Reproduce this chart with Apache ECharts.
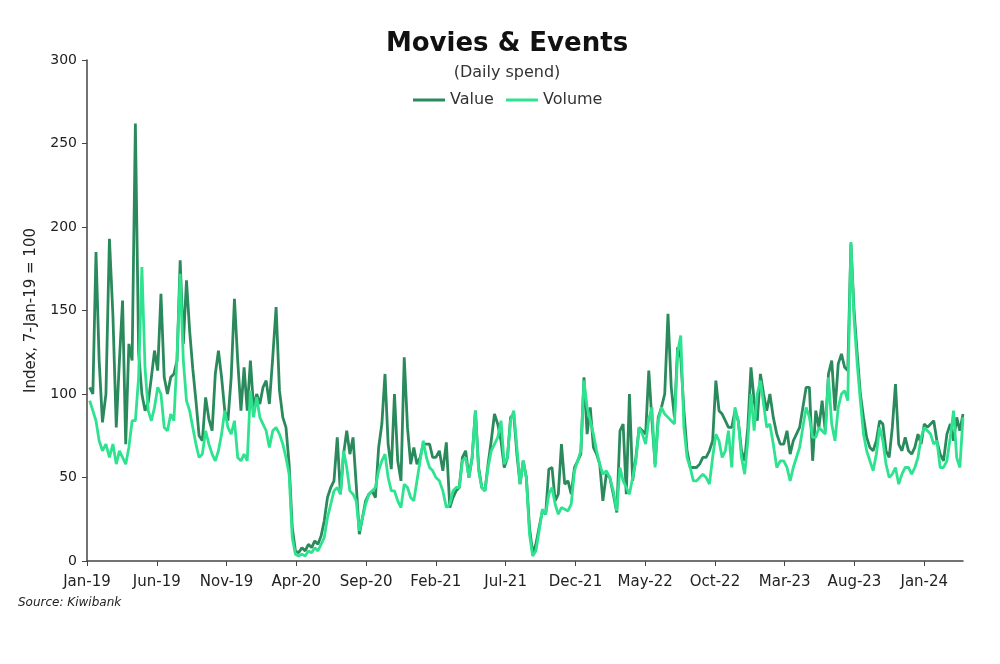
<!DOCTYPE html>
<html>
<head>
<meta charset="utf-8">
<script src="https://cdn.jsdelivr.net/npm/echarts@6/dist/echarts.min.js"></script>
<style>
  html, body { margin: 0; padding: 0; background: #fff; }
  #chart { width: 1000px; height: 664px; }
</style>
</head>
<body>
<div id="chart"></div>
<script>
  // weekly points, first week = 7-Jan-19
  const startDate = '2019-01-07'
  const xTickLabels = ['Jan-19', 'Jun-19', 'Nov-19', 'Apr-20', 'Sep-20', 'Feb-21', 'Jul-21',
    'Dec-21', 'May-22', 'Oct-22', 'Mar-23', 'Aug-23', 'Jan-24']
  const yTicks = [0, 50, 100, 150, 200, 250, 300]

  const valueData = [
    104, 100, 185, 120, 83, 100, 193, 147, 80, 120,
    156, 70, 130, 120, 262, 125, 100, 90, 95, 110,
    126, 114, 160, 110, 100, 110, 112, 120, 180, 130,
    168, 138, 115, 96, 75, 72, 98, 85, 78, 112,
    126, 110, 90, 84, 110, 157, 120, 90, 116, 90,
    120, 92, 100, 94, 104, 108, 94, 122, 152, 102,
    86, 80, 58, 20, 6, 5, 8, 6, 10, 8,
    12, 10, 15, 24, 38, 44, 48, 74, 40, 64,
    78, 64, 74, 46, 16, 26, 36, 40, 42, 38,
    68, 82, 112, 70, 55, 100, 60, 48, 122, 80,
    58, 68, 58, 62, 70, 70, 70, 62, 62, 66,
    54, 71, 32, 38, 42, 44, 62, 66, 50, 62,
    90, 56, 44, 42, 58, 72, 88, 82, 72, 56,
    62, 86, 88, 64, 46, 60, 50, 20, 5, 10,
    20, 30, 28, 55, 56, 36, 40, 70, 46, 48,
    40, 56, 60, 64, 110, 76, 92, 68, 64, 58,
    36, 52, 50, 40, 29, 78, 82, 40, 100, 48,
    62, 80, 78, 76, 114, 84, 58, 86, 92, 100,
    148, 104, 86, 128, 122, 90, 66, 56, 56, 56,
    58, 62, 62, 66, 72, 108, 90, 88, 84, 80,
    80, 90, 84, 66, 60, 80, 116, 96, 84, 112,
    100, 90, 100, 86, 76, 70, 70, 78, 64, 72,
    76, 80, 92, 104, 104, 60, 90, 80, 96, 78,
    112, 120, 90, 118, 124, 116, 114, 190, 150, 124,
    100, 86, 74, 68, 66, 72, 84, 82, 66, 62,
    80, 106, 70, 66, 74, 66, 64, 68, 76, 70,
    82, 80, 82, 84, 72, 64, 60, 76, 82, 72,
    86, 78, 88
  ]

  const volumeData = [
    96, 90, 84, 72, 66, 70, 62, 70, 58, 66,
    62, 58, 68, 84, 84, 110, 176, 115, 90, 84,
    92, 104, 100, 80, 78, 88, 84, 122, 172, 120,
    96, 90, 80, 70, 62, 64, 78, 70, 64, 60,
    66, 76, 90, 80, 76, 84, 62, 60, 64, 60,
    102, 86, 98, 86, 82, 78, 68, 78, 80, 76,
    70, 62, 52, 14, 4, 3, 4, 3, 6, 5,
    8, 6, 10, 14, 26, 34, 42, 44, 40, 66,
    56, 42, 40, 36, 18, 26, 34, 40, 42, 44,
    54, 60, 64, 50, 42, 42, 36, 32, 46, 44,
    38, 36, 48, 60, 72, 62, 56, 54, 50, 48,
    42, 32, 34, 42, 44, 44, 60, 62, 50, 62,
    90, 54, 44, 42, 56, 66, 70, 74, 84, 58,
    62, 84, 90, 68, 46, 60, 50, 16, 3, 6,
    18, 31, 28, 40, 44, 34, 28, 32, 31, 30,
    34, 54, 60, 66, 108, 92, 84, 76, 66, 58,
    52, 54, 50, 42, 30, 56, 48, 44, 40, 50,
    60, 80, 76, 70, 85, 92, 56, 84, 92, 88,
    86, 84, 82, 125, 135, 80, 62, 56, 48, 48,
    50, 52, 50, 46, 62, 76, 72, 62, 66, 78,
    56, 92, 84, 62, 52, 72, 100, 78, 100, 108,
    94, 80, 82, 70, 56, 60, 60, 56, 48, 56,
    62, 68, 80, 92, 86, 74, 74, 80, 78, 76,
    110, 82, 72, 92, 100, 102, 96, 191, 145, 118,
    96, 76, 66, 60, 54, 64, 80, 72, 58, 50,
    52, 56, 46, 52, 56, 56, 52, 56, 62, 74,
    80, 78, 76, 70, 72, 56, 56, 60, 74, 90,
    62, 56, 86
  ]

  // months since 1-Jan-19 for a given date
  function monthPos (d) {
    const y = d.getUTCFullYear()
    const m = d.getUTCMonth()
    const days = new Date(Date.UTC(y, m + 1, 0)).getUTCDate()
    return (y - 2019) * 12 + m + (d.getUTCDate() - 1) / days
  }

  const start = new Date(startDate + 'T00:00:00Z')
  const xPos = valueData.map((v, i) => monthPos(new Date(start.getTime() + i * 7 * 86400000)))
  const xMax = xPos[xPos.length - 1]

  const font = 'DejaVu Sans'
  const axisColor = '#444'
  // header block is centred a little right of the page middle
  const headerX = 502

  const chart = echarts.init(document.getElementById('chart'))
  chart.setOption({
    animation: false,
    backgroundColor: '#fff',
    textStyle: { fontFamily: font },
    title: [
      {
        text: 'Movies & Events',
        left: headerX,
        textAlign: 'center',
        top: 26,
        textStyle: { fontFamily: font, fontSize: 26, fontWeight: 'bold', color: '#111' }
      },
      {
        text: '(Daily spend)',
        left: headerX,
        textAlign: 'center',
        top: 60,
        textStyle: { fontFamily: font, fontSize: 16, fontWeight: 'normal', color: '#333' }
      }
    ],
    legend: {
      top: 87,
      left: 408,
      icon: 'rect',
      itemWidth: 32,
      itemHeight: 3,
      itemGap: 12,
      textStyle: { fontFamily: font, fontSize: 16, color: '#333' },
      data: ['Value', 'Volume']
    },
    grid: {
      left: 87,
      right: 37,
      top: 60,
      bottom: 103
    },
    xAxis: {
      type: 'value',
      min: 0,
      max: xMax,
      interval: 5,
      splitLine: { show: false },
      axisLine: { lineStyle: { color: axisColor, width: 1.5 } },
      axisTick: { show: true, length: 5, lineStyle: { color: axisColor } },
      axisLabel: {
        color: '#222',
        fontSize: 15,
        margin: 14,
        showMaxLabel: false,
        formatter (v) {
          const k = Math.round(v / 5)
          return Math.abs(v - k * 5) < 0.01 && xTickLabels[k] ? xTickLabels[k] : ''
        }
      }
    },
    yAxis: {
      type: 'value',
      min: yTicks[0],
      max: yTicks[yTicks.length - 1],
      interval: 50,
      name: 'Index, 7-Jan-19 = 100',
      nameLocation: 'middle',
      nameGap: 48,
      nameTextStyle: { fontFamily: font, fontSize: 15, color: '#222' },
      splitLine: { show: false },
      axisLine: { show: true, lineStyle: { color: axisColor, width: 1.5 } },
      axisTick: { show: true, length: 5, lineStyle: { color: axisColor } },
      axisLabel: { color: '#222', fontSize: 14, margin: 10 }
    },
    graphic: [
      {
        type: 'text',
        left: 18,
        top: 597,
        style: {
          text: 'Source: Kiwibank',
          font: 'italic 12px "DejaVu Sans"',
          fill: '#222'
        }
      }
    ],
    series: [
      {
        name: 'Value',
        type: 'line',
        symbol: 'none',
        color: '#2a8a5c',
        lineStyle: { width: 2.8, color: '#2a8a5c' },
        data: valueData.map((v, i) => [xPos[i], v])
      },
      {
        name: 'Volume',
        type: 'line',
        symbol: 'none',
        color: '#2ee38f',
        lineStyle: { width: 2.8, color: '#2ee38f' },
        data: volumeData.map((v, i) => [xPos[i], v])
      }
    ]
  })
</script>
</body>
</html>
